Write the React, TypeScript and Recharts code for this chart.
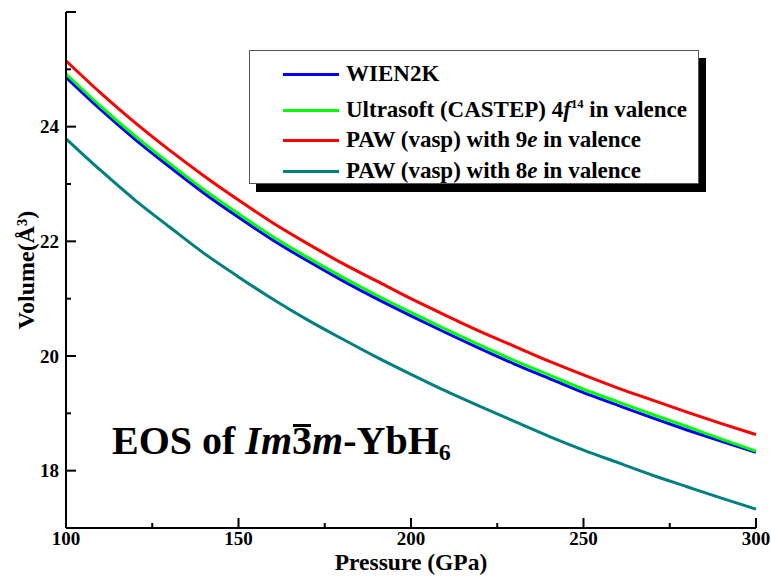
import React from 'react';
import { LineChart, Line, XAxis, YAxis, Legend } from 'recharts';

// pressure grid (GPa)
const pressure = [100, 110, 120, 130, 140, 150, 160, 170, 180, 190, 200, 210, 220, 230, 240, 250, 260, 270, 280, 290, 300];

// volumes (Å^3)
const wien2k = [24.86, 24.3, 23.78, 23.3, 22.84, 22.42, 22.02, 21.66, 21.32, 21.0, 20.7, 20.41, 20.13, 19.86, 19.61, 19.36, 19.14, 18.92, 18.71, 18.51, 18.32];
const castep = [24.92, 24.36, 23.84, 23.36, 22.9, 22.48, 22.08, 21.72, 21.38, 21.06, 20.76, 20.47, 20.19, 19.92, 19.67, 19.42, 19.2, 18.98, 18.77, 18.55, 18.34];
const paw9e = [25.15, 24.59, 24.07, 23.59, 23.14, 22.72, 22.32, 21.96, 21.62, 21.31, 21.0, 20.71, 20.43, 20.17, 19.91, 19.67, 19.44, 19.23, 19.02, 18.82, 18.63];
const paw8e = [23.79, 23.24, 22.72, 22.25, 21.79, 21.38, 20.99, 20.63, 20.3, 19.98, 19.68, 19.39, 19.12, 18.86, 18.6, 18.36, 18.14, 17.92, 17.72, 17.52, 17.33];

const xTicks = [100, 125, 150, 175, 200, 225, 250, 275, 300];
const yTicks = [17, 18, 19, 20, 21, 22, 23, 24, 25, 26];
const yLabels = [18, 20, 22, 24];

const series = [
  { key: 'wien2k', color: '#0000ff' },
  { key: 'castep', color: '#00ff00' },
  { key: 'paw9e', color: '#ff0000' },
  { key: 'paw8e', color: '#008080' },
];

const data = pressure.map((p, i) => ({
  p,
  wien2k: wien2k[i],
  castep: castep[i],
  paw9e: paw9e[i],
  paw8e: paw8e[i],
}));

const FONT = '"Liberation Serif", "Times New Roman", serif';
const X_GAP = 4;
const Y_GAP = 7;

const XTick = (props: any) => {
  const { x, y, payload } = props;
  const v = payload.value;
  const major = v % 50 === 0;
  const axisY = y - X_GAP;
  return (
    <g>
      <line x1={x} x2={x} y1={axisY} y2={axisY - (major ? 10 : 5)} stroke="#000" strokeWidth={2} />
      {major && (
        <text x={x} y={y} dy="0.71em" textAnchor="middle" fontFamily={FONT} fontWeight="bold" fontSize={19} fill="#000">
          {v}
        </text>
      )}
    </g>
  );
};

const YTick = (props: any) => {
  const { x, y, payload } = props;
  const v = payload.value;
  const major = v % 2 === 0;
  const axisX = x + Y_GAP;
  return (
    <g>
      <line x1={axisX} x2={axisX + (major ? 10 : 5)} y1={y} y2={y} stroke="#000" strokeWidth={2} />
      {yLabels.includes(v) && (
        <text x={x} y={y} dy="0.355em" textAnchor="end" fontFamily={FONT} fontWeight="bold" fontSize={19} fill="#000">
          {v}
        </text>
      )}
    </g>
  );
};

const labelFor = (key: string) => {
  switch (key) {
    case 'wien2k':
      return <span>WIEN2K</span>;
    case 'castep':
      return (
        <span>
          Ultrasoft (CASTEP) 4<i>f</i>
          <sup style={{ fontSize: '0.55em', verticalAlign: '0.75em', lineHeight: 0 }}>14</sup> in valence
        </span>
      );
    case 'paw9e':
      return (
        <span>
          PAW (vasp) with 9<i>e</i> in valence
        </span>
      );
    default:
      return (
        <span>
          PAW (vasp) with 8<i>e</i> in valence
        </span>
      );
  }
};

const LegendBox = () => (
  <div
    style={{
      boxSizing: 'border-box',
      width: 450,
      height: 134,
      border: '1px solid #555',
      background: '#fff',
      boxShadow: '7px 8px 0 #000',
      paddingTop: 8,
      fontFamily: FONT,
      fontWeight: 'bold',
      fontSize: 23,
      color: '#000',
    }}
  >
    {series.map((s, i) => (
      <div
        key={s.key}
        style={{
          display: 'flex',
          alignItems: 'center',
          height: 30,
          marginTop: i === 1 ? 6 : i === 3 ? 1 : 0,
          whiteSpace: 'nowrap',
        }}
      >
        <div style={{ width: 56, height: 3, background: s.color, marginLeft: 33, marginRight: 7 }} />
        {labelFor(s.key)}
      </div>
    ))}
  </div>
);

export default function App() {
  return (
    <div style={{ position: 'relative', width: 771, height: 578, background: '#fff' }}>
      <style>{'body{margin:0}'}</style>
      <LineChart width={771} height={578} data={data} margin={{ top: 12, right: 15, bottom: 0, left: 0 }}>
        <XAxis
          dataKey="p"
          type="number"
          domain={[100, 300]}
          ticks={xTicks}
          interval={0}
          height={50}
          tickSize={0}
          tickMargin={X_GAP}
          tick={<XTick />}
          axisLine={{ stroke: '#000', strokeWidth: 2 }}
          label={{
            value: 'Pressure (GPa)',
            position: 'insideBottom',
            offset: 8,
            style: { fontFamily: FONT, fontWeight: 'bold', fontSize: 23.5, fill: '#000' },
          }}
        />
        <XAxis
          xAxisId="top"
          orientation="top"
          type="number"
          domain={[100, 300]}
          height={0}
          tick={false}
          tickLine={false}
          axisLine={{ stroke: '#000', strokeWidth: 2 }}
        />
        <YAxis
          type="number"
          domain={[17, 26]}
          ticks={yTicks}
          interval={0}
          width={66}
          tickSize={0}
          tickMargin={Y_GAP}
          tick={<YTick />}
          axisLine={{ stroke: '#000', strokeWidth: 2 }}
          label={{
            value: 'Volume(Å³)',
            angle: -90,
            position: 'insideLeft',
            offset: 25,
            style: { textAnchor: 'middle', fontFamily: FONT, fontWeight: 'bold', fontSize: 24, fill: '#000' },
          }}
        />
        <YAxis
          yAxisId="right"
          orientation="right"
          type="number"
          domain={[17, 26]}
          width={0}
          tick={false}
          tickLine={false}
          axisLine={{ stroke: '#000', strokeWidth: 2 }}
        />
        {series.map((s) => (
          <Line
            key={s.key}
            dataKey={s.key}
            type="monotone"
            stroke={s.color}
            strokeWidth={3}
            dot={false}
            activeDot={false}
            isAnimationActive={false}
          />
        ))}
        <Legend
          layout="vertical"
          align="center"
          verticalAlign="middle"
          wrapperStyle={{ left: 249, top: 50, width: 'auto' }}
          content={() => <LegendBox />}
        />
      </LineChart>
      <div
        style={{
          position: 'absolute',
          left: 112,
          top: 421,
          fontFamily: FONT,
          fontWeight: 'bold',
          fontSize: 40,
          lineHeight: '40px',
          color: '#000',
          whiteSpace: 'nowrap',
        }}
      >
        EOS of <i>Im</i>
        <span style={{ position: 'relative', display: 'inline-block' }}>
          3
          <span
            style={{ position: 'absolute', left: 1, right: 1, top: 3, height: 3, background: '#000' }}
          />
        </span>
        <i>m</i>-YbH<sub style={{ fontSize: 24, verticalAlign: '-0.25em', lineHeight: 0 }}>6</sub>
      </div>
    </div>
  );
}
